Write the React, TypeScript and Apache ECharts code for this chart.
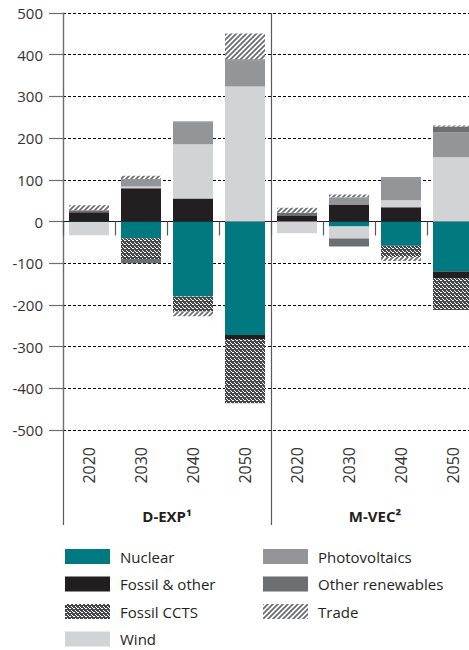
import React, { useEffect, useRef } from "react";
import * as echarts from "echarts";

const years = ["2020", "2030", "2040", "2050", "2020", "2030", "2040", "2050"];
const groups = ["D-EXP¹", "M-VEC²"];

const nuclear = [-1, -40, -180, -272, 0, -12, -58, -120];
const fossil = [22, 80, 55, -10, 13, 41, 34, -16];
const fossilCcts = [0, -50, -36, -154, 0, 0, -27, -76];
const wind = [-32, 4, 130, 324, -28, -29, 17, 154];
const photovoltaics = [0, 18, 53, 62, 0, 17, 53, 60];
const otherRenewables = [5, -10, 2, 3, 8, -19, 2, 14];
const trade = [12, 8, -11, 62, 12, 7, -10, 2];

const FONT = "'Open Sans', 'Noto Sans', sans-serif";
const CHART_W = 490;
const CHART_H = 720;

function makeTile(w: number, h: number, draw: (ctx: CanvasRenderingContext2D) => void) {
  const c = document.createElement("canvas");
  c.width = w;
  c.height = h;
  const ctx = c.getContext("2d") as CanvasRenderingContext2D;
  draw(ctx);
  return c;
}

export default function App() {
  const ref = useRef<HTMLDivElement>(null);

  useEffect(() => {
    if (!ref.current) return;
    const chart = echarts.init(ref.current, null, { renderer: "svg" });

    const cctsTile = makeTile(4, 4, (ctx) => {
      ctx.fillStyle = "#454648";
      ctx.fillRect(0, 0, 4, 4);
      ctx.fillStyle = "#ffffff";
      ctx.fillRect(0, 0, 2, 1);
      ctx.fillRect(2, 2, 1, 1);
      ctx.fillRect(3, 3, 1, 1);
    });
    const tradeTile = makeTile(5, 5, (ctx) => {
      ctx.fillStyle = "#ffffff";
      ctx.fillRect(0, 0, 5, 5);
      ctx.strokeStyle = "#6d6e71";
      ctx.lineWidth = 1.8;
      ctx.beginPath();
      ctx.moveTo(-1, 6);
      ctx.lineTo(6, -1);
      ctx.moveTo(-3, 3);
      ctx.lineTo(3, -3);
      ctx.moveTo(2, 8);
      ctx.lineTo(8, 2);
      ctx.stroke();
    });
    const cctsPattern: any = { image: cctsTile, repeat: "repeat" };
    const tradePattern: any = { image: tradeTile, repeat: "repeat" };

    const seriesDefs: [string, number[], any][] = [
      ["Nuclear", nuclear, "#007a80"],
      ["Fossil & other", fossil, "#231f20"],
      ["Fossil CCTS", fossilCcts, cctsPattern],
      ["Wind", wind, "#d1d3d4"],
      ["Photovoltaics", photovoltaics, "#939598"],
      ["Other renewables", otherRenewables, "#6d6e71"],
      ["Trade", trade, tradePattern],
    ];

    const legendCommon = {
      orient: "vertical",
      icon: "rect",
      itemWidth: 45,
      itemHeight: 15,
      itemGap: 12.5,
      selectedMode: false,
      textStyle: { fontFamily: FONT, fontSize: 15, color: "#231f20", padding: [0, 0, 0, 5] },
    };

    chart.setOption({
      animation: false,
      textStyle: { fontFamily: FONT },
      legend: [
        { ...legendCommon, left: 60, top: 544, data: ["Nuclear", "Fossil & other", "Fossil CCTS", "Wind"] },
        { ...legendCommon, left: 258, top: 544, data: ["Photovoltaics", "Other renewables", "Trade"] },
      ],
      grid: [
        { left: 63, right: CHART_W - 479, top: 13, bottom: CHART_H - 430 },
        { left: 63, right: CHART_W - 479, top: 430, bottom: CHART_H - 525 },
      ],
      xAxis: [
        {
          type: "category",
          gridIndex: 0,
          position: "bottom",
          data: years,
          axisLine: { show: true, lineStyle: { color: "#231f20", width: 1 } },
          axisTick: { show: true, interval: 0, length: 14, lineStyle: { color: "#58595b", width: 1.2 } },
          axisLabel: { interval: 0, rotate: 90, margin: 17, fontSize: 16, color: "#333333", fontFamily: FONT },
          splitLine: { show: false },
        },
        {
          type: "category",
          gridIndex: 0,
          position: "top",
          data: groups,
          axisLine: { show: false },
          axisTick: { show: false },
          axisLabel: { show: false },
          splitLine: { show: true, lineStyle: { color: "#58595b", width: 1.2, type: "solid" } },
        },
        {
          type: "category",
          gridIndex: 1,
          position: "bottom",
          data: groups,
          axisLine: { show: false },
          axisTick: { show: false },
          axisLabel: {
            inside: true,
            margin: 2,
            fontSize: 15,
            fontWeight: "bold",
            color: "#231f20",
            fontFamily: FONT,
          },
          splitLine: { show: true, lineStyle: { color: "#58595b", width: 1.2, type: "solid" } },
        },
      ],
      yAxis: [
        {
          type: "value",
          gridIndex: 0,
          min: -500,
          max: 500,
          interval: 100,
          axisLine: { show: true, lineStyle: { color: "#6d6e71", width: 1.2 } },
          axisTick: { show: true, length: 14, lineStyle: { color: "#6d6e71", width: 1.2 } },
          axisLabel: { margin: 20, fontSize: 15, color: "#333333", fontFamily: FONT },
          splitLine: { show: true, lineStyle: { color: "#000000", width: 1, type: [3, 2] } },
        },
        { type: "value", gridIndex: 1, show: false, splitLine: { show: false } },
      ],
      series: seriesDefs.map(([name, data, color]) => ({
        name,
        type: "bar",
        stack: "total",
        xAxisIndex: 0,
        yAxisIndex: 0,
        barWidth: 40,
        data,
        itemStyle: { color },
        emphasis: { disabled: true },
      })),
    });

    return () => chart.dispose();
  }, []);

  return (
    <div
      style={{
        position: "fixed",
        left: 0,
        top: 0,
        width: 469,
        height: 650,
        overflow: "hidden",
        background: "#ffffff",
      }}
    >
      <div ref={ref} style={{ width: CHART_W, height: CHART_H }} />
    </div>
  );
}
